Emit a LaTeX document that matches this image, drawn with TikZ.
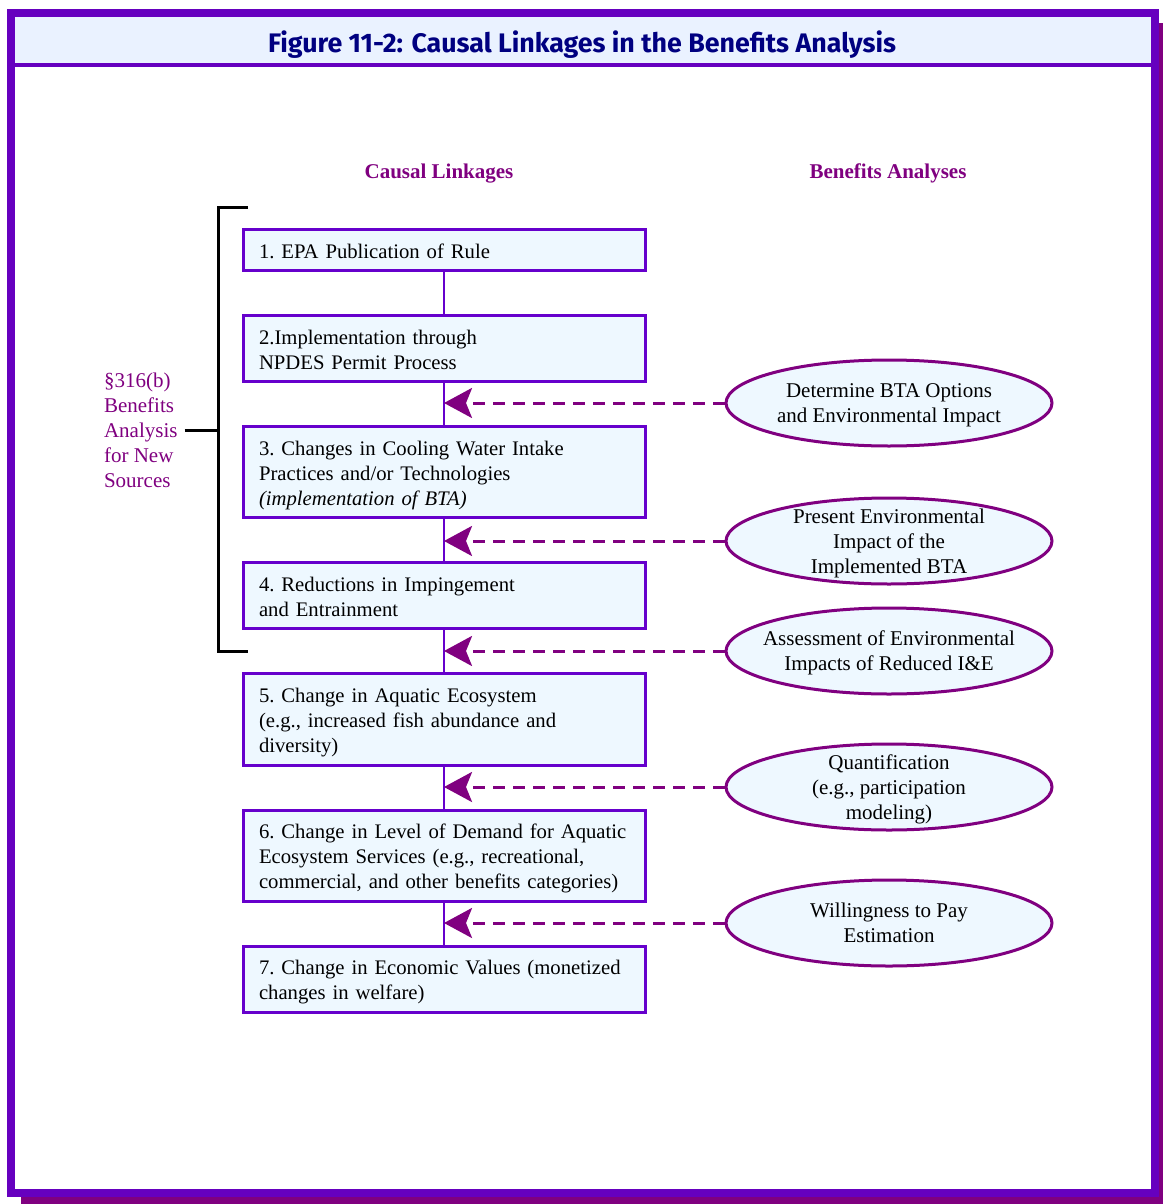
\documentclass[tikz,border=0pt]{standalone}
\usepackage{fontspec}
\setmainfont{Liberation Serif}
\newfontfamily\titlefont{Fira Sans}
\usepackage{tikz}
\usetikzlibrary{positioning}
\usetikzlibrary{shapes.geometric}
\usetikzlibrary{arrows.meta}
\usepackage{xcolor}

\definecolor{framepurple}{RGB}{102,0,191}
\definecolor{darkpurple}{RGB}{128,0,128}
\definecolor{boxpurple}{RGB}{102,0,204}
\definecolor{titlenavy}{RGB}{0,0,128}
\definecolor{titlebg}{RGB}{234,242,255}
\definecolor{boxfill}{RGB}{238,248,255}
\newcommand{\bodysize}{\fontsize{10.5}{12.5}\selectfont\frenchspacing\hyphenpenalty=10000}
\newcommand{\boxsize}{\fontsize{10.35}{12.5}\selectfont\frenchspacing\hyphenpenalty=10000}
% keeps first and last lines of the boxes on a common grid
\newcommand{\linestrut}{\rule[-1.9pt]{0pt}{12.1pt}}

\begin{document}
\begin{tikzpicture}[x=0.5pt,y=-0.5pt,font=\bodysize,
    linkbox/.style={draw=boxpurple, line width=1.5pt, fill=boxfill, minimum width=201pt,
        text width=185pt, inner xsep=8pt, align=left, font=\boxsize,
        execute at begin node=\linestrut, execute at end node=\linestrut},
    analysis/.style={ellipse, draw=darkpurple, line width=1.5pt, fill=boxfill,
        minimum width=163pt, minimum height=43pt, inner xsep=-20pt, inner ysep=-10pt,
        align=center, text depth=0pt},
    feedback/.style={darkpurple, line width=1.5pt, dash pattern=on 6pt off 4pt,
        -{Stealth[length=14pt,width=15pt,inset=3pt]}},
    chain/.style={boxpurple, line width=1pt},
    heading/.style={text=darkpurple, font=\bodysize\bfseries, text depth=0pt}]
    \useasboundingbox (0,0) rectangle (1162,1204);

    % Frame with shadow and title bar
    \fill[darkpurple] (21,23) rectangle (1180,1220);
    \filldraw[draw=framepurple, fill=white, line width=4pt] (11,13) rectangle (1155,1193);
    \fill[titlebg] (15,17) rectangle (1151,65);
    \draw[framepurple, line width=1.7pt] (15,65) -- (1151,65);
    \node[text=titlenavy, font=\titlefont\fontsize{13.4}{16}\selectfont\bfseries] (title) at (582,45)
        {Figure 11-2: Causal Linkages in the Benefits Analysis};

    % Column headings
    \node[heading] (hcausal) at (439,171) {Causal Linkages};
    \node[heading] (hbenefit) at (888,171) {Benefits Analyses};

    % Causal chain
    \node[linkbox, minimum height=20.5pt] (b1) at (444,250) {1. EPA Publication of Rule};
    \node[linkbox, minimum height=33pt] (b2) at (444,348.5) {2.Implementation through\\NPDES Permit Process};
    \node[linkbox, minimum height=45.5pt] (b3) at (444,472) {3. Changes in Cooling Water Intake\\Practices and/or Technologies\\\textit{(implementation of BTA)}};
    \node[linkbox, minimum height=33pt] (b4) at (444,595.5) {4. Reductions in Impingement\\and Entrainment};
    \node[linkbox, minimum height=46pt] (b5) at (444,719.5) {5. Change in Aquatic Ecosystem\\(e.g., increased fish abundance and\\diversity)};
    \node[linkbox, minimum height=45.5pt] (b6) at (444,856) {6. Change in Level of Demand for Aquatic\\Ecosystem Services (e.g., recreational,\\commercial, and other benefits categories)};
    \node[linkbox, minimum height=33pt] (b7) at (444,979.5) {7. Change in Economic Values (monetized\\changes in welfare)};
    \foreach \a/\b in {b1/b2,b2/b3,b3/b4,b4/b5,b5/b6,b6/b7}
        \draw[chain] (\a.south) -- (\b.north);

    % Benefits analyses
    \node[analysis] (e1) at (889,403) {Determine BTA Options\\and Environmental Impact};
    \node[analysis] (e2) at (889,541) {Present Environmental\\Impact of the\\Implemented BTA};
    \node[analysis] (e3) at (889,651) {Assessment of Environmental\\Impacts of Reduced I\&E};
    \node[analysis] (e4) at (889,787) {Quantification\\(e.g., participation\\modeling)};
    \node[analysis] (e5) at (889,923) {Willingness to Pay\\Estimation};
    \foreach \e/\b in {e1/b2,e2/b3,e3/b4,e4/b5,e5/b6}
        \draw[feedback] (\e.west) -- (\e.west -| \b.south);

    % Bracket for the new source analysis
    \node[text=darkpurple, anchor=west, align=left] (newsrc) at (97,430)
        {\S316(b)\\Benefits\\Analysis\\for New\\Sources};
    \coordinate (brace) at (218,430);
    \draw[line width=1.5pt] (248,207) -- (218,207) -- (218,651) -- (248,651);
    \draw[line width=1.5pt] (newsrc.east) -- (brace);
\end{tikzpicture}
\end{document}
